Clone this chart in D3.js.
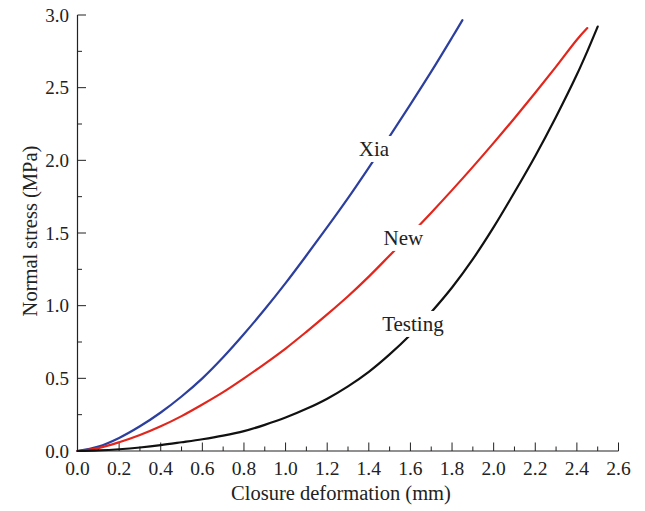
<!DOCTYPE html>
<html>
<head>
<meta charset="utf-8">
<script src="https://cdn.jsdelivr.net/npm/d3@7"></script>
<style>
  html, body { margin: 0; padding: 0; background: #fff; }
  svg { display: block; }
  text { font-family: "Liberation Serif", "DejaVu Serif", serif; fill: #222; }
</style>
</head>
<body>
<svg id="chart" width="645" height="511"></svg>
<script>
// Closure deformation (mm) sample points
const deformation = [0, 0.1, 0.2, 0.3, 0.4, 0.5, 0.6, 0.7, 0.8, 0.9, 1.0, 1.1, 1.2, 1.3, 1.4, 1.5, 1.6, 1.7, 1.8, 1.9, 2.0, 2.1, 2.2, 2.3, 2.4, 2.45, 2.5];

// Normal stress (MPa) for each curve, one value per deformation point until the curve ends
const xiaStress = [0, 0.03, 0.09, 0.17, 0.265, 0.375, 0.50, 0.645, 0.805, 0.975, 1.155, 1.345, 1.54, 1.74, 1.95, 2.165, 2.385, 2.61, 2.845];
const xiaEnd = { x: 1.85, y: 2.965 };
const newStress = [0, 0.02, 0.06, 0.11, 0.17, 0.24, 0.32, 0.405, 0.50, 0.60, 0.705, 0.82, 0.94, 1.065, 1.20, 1.345, 1.49, 1.64, 1.795, 1.955, 2.12, 2.29, 2.465, 2.645, 2.83, 2.91];
const testingStress = [0, 0.004, 0.012, 0.024, 0.04, 0.06, 0.081, 0.106, 0.137, 0.18, 0.23, 0.29, 0.36, 0.445, 0.545, 0.665, 0.80, 0.955, 1.125, 1.32, 1.54, 1.78, 2.03, 2.30, 2.59, 2.75, 2.92];

const xTicks = [0, 0.2, 0.4, 0.6, 0.8, 1.0, 1.2, 1.4, 1.6, 1.8, 2.0, 2.2, 2.4, 2.6];
const yTicks = [0, 0.5, 1.0, 1.5, 2.0, 2.5, 3.0];

const curveNames = ["Xia", "New", "Testing"];
const curveColors = ["#2c3f9e", "#e2261c", "#111111"];
const labelAnchors = [ // label centre / baseline in data units
  { x: 1.425, y: 2.03 },
  { x: 1.566, y: 1.418 },
  { x: 1.612, y: 0.826 }
];

const svg = d3.select("#chart");

const x = d3.scaleLinear().domain([0, 2.6]).range([77.5, 618.5]);
const y = d3.scaleLinear().domain([0, 3.0]).range([451, 15]);

function series(values, end) {
  const pts = values.map((v, i) => ({ x: deformation[i], y: v }));
  if (end) pts.push(end);
  return pts;
}
const curves = [
  series(xiaStress, xiaEnd),
  series(newStress, null),
  series(testingStress, null)
];

// Axes with inward major/minor ticks
const axisColor = "#222";
const xMinor = d3.range(0, 2.61, 0.1);
const yMinor = d3.range(0, 3.01, 0.25);

const gx = svg.append("g").attr("transform", `translate(0,${y(0)})`);
gx.append("line").attr("x1", x(0)).attr("x2", x(2.6)).attr("stroke", axisColor).attr("stroke-width", 1.2);
gx.selectAll("line.minor").data(xMinor).join("line")
  .attr("class", "minor")
  .attr("x1", d => x(d)).attr("x2", d => x(d))
  .attr("y1", 0)
  .attr("y2", (d, i) => (i % 2 === 0 ? -8.5 : -4.5))
  .attr("stroke", axisColor).attr("stroke-width", 1);
gx.selectAll("text").data(xTicks).join("text")
  .attr("x", d => x(d)).attr("y", 24)
  .attr("text-anchor", "middle")
  .attr("font-size", 19.5)
  .text(d => d.toFixed(1));

const gy = svg.append("g").attr("transform", `translate(${x(0)},0)`);
gy.append("line").attr("y1", y(0)).attr("y2", y(3.0)).attr("stroke", axisColor).attr("stroke-width", 1.2);
gy.selectAll("line.minor").data(yMinor).join("line")
  .attr("class", "minor")
  .attr("y1", d => y(d)).attr("y2", d => y(d))
  .attr("x1", 0)
  .attr("x2", (d, i) => (i % 2 === 0 ? 8.5 : 4.5))
  .attr("stroke", axisColor).attr("stroke-width", 1);
gy.selectAll("text").data(yTicks).join("text")
  .attr("x", -8.5).attr("y", d => y(d))
  .attr("dy", "0.35em")
  .attr("text-anchor", "end")
  .attr("font-size", 19)
  .text(d => d.toFixed(1));

// Axis titles
svg.append("text")
  .attr("x", 341).attr("y", 500)
  .attr("text-anchor", "middle")
  .attr("font-size", 20.5)
  .text("Closure deformation (mm)");
svg.append("text")
  .attr("transform", "translate(37,231) rotate(-90)")
  .attr("text-anchor", "middle")
  .attr("font-size", 20.5)
  .text("Normal stress (MPa)");

// Curves
const line = d3.line().x(d => x(d.x)).y(d => y(d.y)).curve(d3.curveCatmullRom.alpha(0.5));
svg.append("g").selectAll("path").data(curves).join("path")
  .attr("d", line)
  .attr("fill", "none")
  .attr("stroke", (d, i) => curveColors[i])
  .attr("stroke-width", 2.2)
  .attr("stroke-linecap", "round");

// Curve labels on white backing
const lg = svg.append("g");
curveNames.forEach((name, i) => {
  const g = lg.append("g");
  const t = g.append("text")
    .attr("x", x(labelAnchors[i].x)).attr("y", y(labelAnchors[i].y))
    .attr("text-anchor", "middle")
    .attr("font-size", 21)
    .text(name);
  const bb = t.node().getBBox();
  g.insert("rect", "text")
    .attr("x", bb.x - 3).attr("y", bb.y - 1)
    .attr("width", bb.width + 6).attr("height", bb.height + 2)
    .attr("fill", "#fff");
});
</script>
</body>
</html>
